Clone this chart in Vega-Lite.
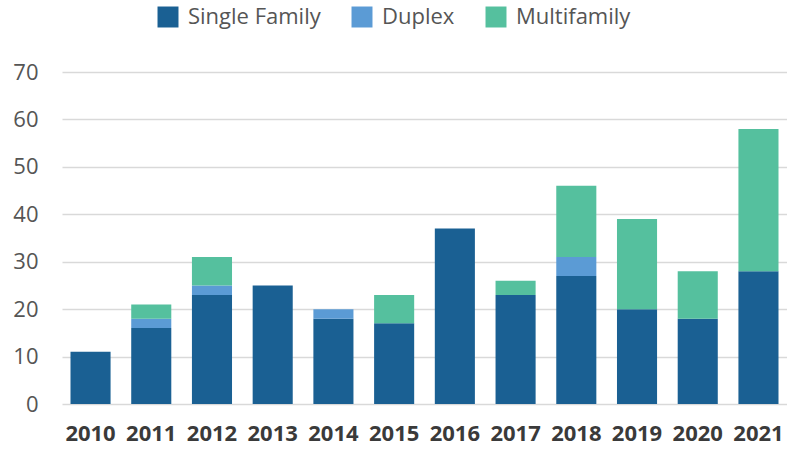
{
  "$schema": "https://vega.github.io/schema/vega-lite/v6.json",
  "autosize": "none",
  "width": 725,
  "height": 332,
  "padding": {"left": 62, "top": 72, "right": 0, "bottom": 46},
  "config": {"font": "Open Sans", "view": {"stroke": null}},
  "data": {"values": [
    {"year": "2010", "type": "Single Family", "value": 11},
    {"year": "2011", "type": "Single Family", "value": 16},
    {"year": "2011", "type": "Duplex", "value": 2},
    {"year": "2011", "type": "Multifamily", "value": 3},
    {"year": "2012", "type": "Single Family", "value": 23},
    {"year": "2012", "type": "Duplex", "value": 2},
    {"year": "2012", "type": "Multifamily", "value": 6},
    {"year": "2013", "type": "Single Family", "value": 25},
    {"year": "2014", "type": "Single Family", "value": 18},
    {"year": "2014", "type": "Duplex", "value": 2},
    {"year": "2015", "type": "Single Family", "value": 17},
    {"year": "2015", "type": "Multifamily", "value": 6},
    {"year": "2016", "type": "Single Family", "value": 37},
    {"year": "2017", "type": "Single Family", "value": 23},
    {"year": "2017", "type": "Multifamily", "value": 3},
    {"year": "2018", "type": "Single Family", "value": 27},
    {"year": "2018", "type": "Duplex", "value": 4},
    {"year": "2018", "type": "Multifamily", "value": 15},
    {"year": "2019", "type": "Single Family", "value": 20},
    {"year": "2019", "type": "Multifamily", "value": 19},
    {"year": "2020", "type": "Single Family", "value": 18},
    {"year": "2020", "type": "Multifamily", "value": 10},
    {"year": "2021", "type": "Single Family", "value": 28},
    {"year": "2021", "type": "Multifamily", "value": 30}
  ]},
  "transform": [
    {"calculate": "indexof(['Single Family','Duplex','Multifamily'], datum.type)", "as": "order"}
  ],
  "mark": {"type": "bar"},
  "encoding": {
    "x": {
      "field": "year", "type": "ordinal", "title": null,
      "scale": {"paddingInner": 0.34, "paddingOuter": 0.14},
      "axis": {"labelAngle": 0, "domain": false, "ticks": false, "labelFontSize": 22, "labelFontWeight": "bold", "labelColor": "#3a3a3a", "labelPadding": 19, "labelOverlap": false}
    },
    "y": {
      "field": "value", "type": "quantitative", "title": null, "stack": "zero",
      "scale": {"domain": [0, 70]},
      "axis": {"values": [0,10,20,30,40,50,60,70], "labelOverlap": false, "domain": false, "ticks": false, "labelFontSize": 22, "labelColor": "#555555", "labelPadding": 24, "gridColor": "#d9d9d9", "gridWidth": 1.5}
    },
    "color": {
      "field": "type", "type": "nominal", "title": null,
      "scale": {"domain": ["Single Family", "Duplex", "Multifamily"], "range": ["#1a6093", "#5b9bd5", "#55c09e"]},
      "legend": {"orient": "none", "legendX": 95, "legendY": -66, "direction": "horizontal", "symbolType": "square", "symbolSize": 440, "symbolStrokeWidth": 0, "symbolOpacity": 1, "labelFontSize": 22, "labelColor": "#555555", "labelOffset": 9, "columnPadding": 30}
    },
    "order": {"field": "order", "type": "quantitative"}
  }
}
